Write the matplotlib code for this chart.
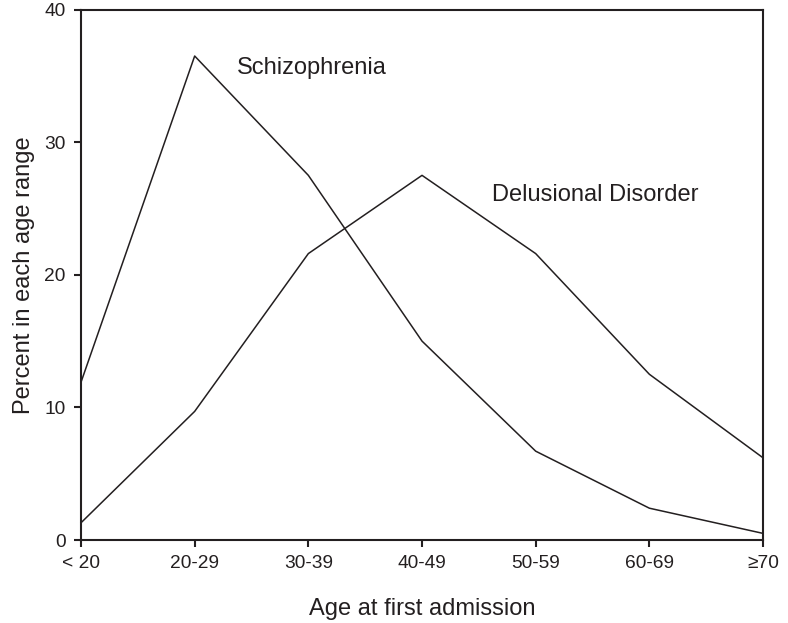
import matplotlib
matplotlib.use("Agg")
import matplotlib.pyplot as plt

plt.rcParams['font.family'] = ['Liberation Sans', 'DejaVu Sans']

age_groups = ["< 20", "20-29", "30-39", "40-49", "50-59", "60-69", "\u226570"]
schizophrenia = [11.9, 36.5, 27.5, 15.0, 6.7, 2.4, 0.5]
delusional = [1.3, 9.7, 21.6, 27.5, 21.6, 12.5, 6.2]

ink = "#231f20"

fig = plt.figure(figsize=(7.88, 6.23), dpi=100)
ax = fig.add_axes([0.1028, 0.1332, 0.8655, 0.8514])

x = range(len(age_groups))
ax.plot(x, schizophrenia, color=ink, lw=1.1, clip_on=False)
ax.plot(x, delusional, color=ink, lw=1.1, clip_on=False)

ax.text(1.37, 35.6, "Schizophrenia", fontsize=17, color=ink, va="center")
ax.text(3.62, 26.0, "Delusional Disorder", fontsize=17, color=ink, va="center")

ax.set_xlim(0, len(age_groups) - 1)
ax.set_ylim(0, 40)
ax.set_xticks(list(x))
ax.set_xticklabels(age_groups)
ax.set_yticks([0, 10, 20, 30, 40])

for s in ax.spines.values():
    s.set_linewidth(1.5)
    s.set_color(ink)
ax.tick_params(direction="out", length=5, width=1.5, color=ink,
               labelsize=13.8, labelcolor=ink, pad=6)

ax.set_xlabel("Age at first admission", fontsize=17, color=ink, labelpad=18.5)
ax.set_ylabel("Percent in each age range", fontsize=17, color=ink, labelpad=6.5)

fig.savefig("out.png", dpi=100)
